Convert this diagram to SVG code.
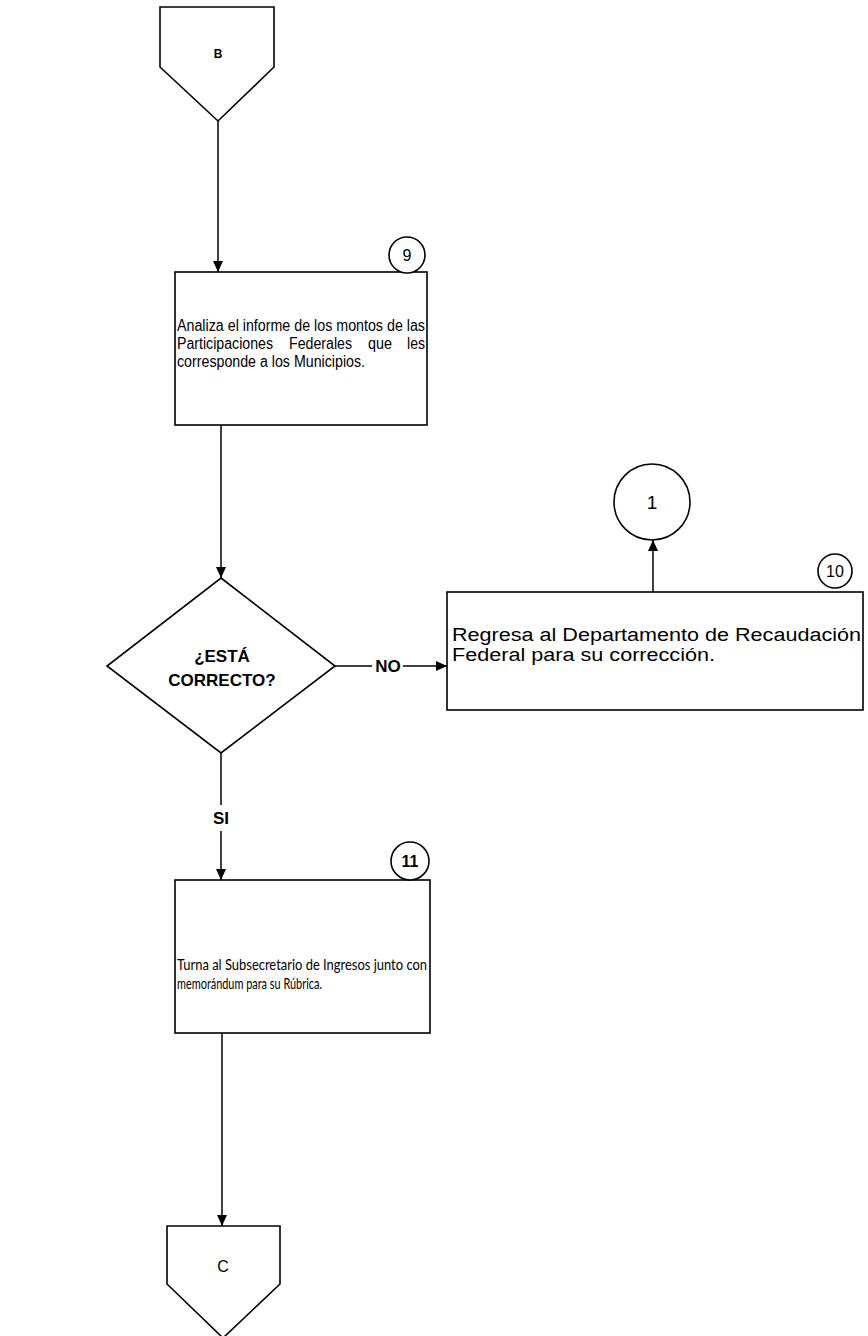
<svg xmlns="http://www.w3.org/2000/svg" width="868" height="1336" viewBox="0 0 868 1336">
<style>
.shape{fill:#fff;stroke:#000;stroke-width:1.6}
.line{fill:none;stroke:#000;stroke-width:1.5}
.t{font-family:"Liberation Sans",Arial,sans-serif;fill:#000}
.b{font-weight:bold}
.cal{font-family:Lato,"Open Sans","Liberation Sans",sans-serif;fill:#000}
</style>
<defs>
<marker id="ah" markerWidth="11" markerHeight="10" refX="11" refY="5" orient="auto" markerUnits="userSpaceOnUse">
<path d="M0,0 L11,5 L0,10 z" fill="#000"/>
</marker>
</defs>
<rect width="868" height="1336" fill="#fff"/>

<g id="connectors">
<path class="line" d="M218,121 L218,272" marker-end="url(#ah)"/>
<path class="line" d="M221,425 L221,578" marker-end="url(#ah)"/>
<path class="line" d="M335,666 L372,666"/>
<path class="line" d="M403,666 L447,666" marker-end="url(#ah)"/>
<path class="line" d="M653,592 L653,540" marker-end="url(#ah)"/>
<path class="line" d="M221,753 L221,805"/>
<path class="line" d="M221,831 L221,880" marker-end="url(#ah)"/>
<path class="line" d="M222,1033 L222,1226" marker-end="url(#ah)"/>
<text class="t b" x="388" y="672" font-size="17" text-anchor="middle">NO</text>
<text class="t b" x="221" y="824" font-size="17" text-anchor="middle">SI</text>
</g>

<g id="connector-B">
<path class="shape" d="M160,7 L274,7 L274,67 L218,121 L160,67 Z"/>
<text class="t b" x="218" y="58" font-size="12" text-anchor="middle">B</text>
</g>

<g id="step-9">
<rect class="shape" x="175" y="272" width="252" height="153"/>
<circle class="shape" cx="407" cy="255" r="18"/>
<text class="t" x="407" y="261" font-size="16" text-anchor="middle">9</text>
<text class="t" x="177" y="331" font-size="16" textLength="248" lengthAdjust="spacingAndGlyphs">Analiza el informe de los montos de las</text>
<text class="t" x="177" y="349" font-size="16" textLength="96" lengthAdjust="spacingAndGlyphs">Participaciones</text>
<text class="t" x="289" y="349" font-size="16" textLength="63" lengthAdjust="spacingAndGlyphs">Federales</text>
<text class="t" x="368" y="349" font-size="16" textLength="24" lengthAdjust="spacingAndGlyphs">que</text>
<text class="t" x="407" y="349" font-size="16" textLength="18" lengthAdjust="spacingAndGlyphs">les</text>
<text class="t" x="177" y="367" font-size="16" textLength="188" lengthAdjust="spacingAndGlyphs">corresponde a los Municipios.</text>
</g>

<g id="decision">
<path class="shape" d="M221,578 L335,666 L221,753 L107,666 Z"/>
<text class="t b" x="222" y="662" font-size="17" text-anchor="middle">¿ESTÁ</text>
<text class="t b" x="222" y="686" font-size="17" text-anchor="middle">CORRECTO?</text>
</g>

<g id="step-10">
<rect class="shape" x="447" y="592" width="416" height="118"/>
<circle class="shape" cx="835" cy="571" r="17"/>
<text class="t" x="835" y="577" font-size="16" text-anchor="middle">10</text>
<text class="t" x="452" y="641" font-size="18" textLength="409" lengthAdjust="spacingAndGlyphs">Regresa al Departamento de Recaudación</text>
<text class="t" x="452" y="661" font-size="18" textLength="263" lengthAdjust="spacingAndGlyphs">Federal para su corrección.</text>
</g>

<g id="connector-1">
<circle class="shape" cx="652" cy="502" r="38"/>
<text class="t" x="652" y="509" font-size="19" text-anchor="middle">1</text>
</g>

<g id="step-11">
<rect class="shape" x="175" y="880" width="255" height="153"/>
<circle class="shape" cx="410" cy="861" r="19"/>
<text class="t b" x="410" y="867" font-size="16" text-anchor="middle">11</text>
<text class="cal" x="177" y="970" font-size="15" textLength="250" lengthAdjust="spacingAndGlyphs">Turna al Subsecretario de Ingresos junto con</text>
<text class="cal" x="177" y="989" font-size="15" textLength="145" lengthAdjust="spacingAndGlyphs">memorándum para su Rúbrica.</text>
</g>

<g id="connector-C">
<path class="shape" d="M167,1226 L280,1226 L280,1284 L223,1338 L167,1284 Z"/>
<text class="t" x="223" y="1272" font-size="16" text-anchor="middle">C</text>
</g>
</svg>
